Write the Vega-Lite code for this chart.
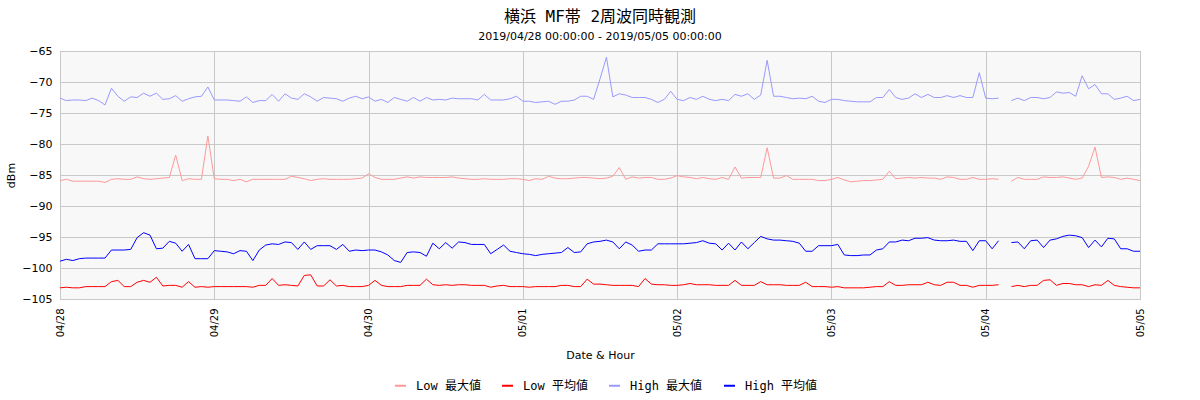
{
  "$schema": "https://vega.github.io/schema/vega-lite/v6.json",
  "description": "Yokohama MF band, two-frequency simultaneous observation, hourly max and mean in dBm.",
  "width": 1080,
  "height": 248,
  "autosize": "none",
  "padding": {"left": 60, "top": 51, "right": 60, "bottom": 101},
  "title": {
    "text": "横浜 MF帯 2周波同時観測",
    "subtitle": "2019/04/28 00:00:00 - 2019/05/05 00:00:00",
    "anchor": "middle",
    "font": "DejaVu Sans Mono, Noto Sans CJK JP",
    "fontSize": 16,
    "fontWeight": "normal",
    "color": "#000000",
    "subtitleFont": "DejaVu Sans",
    "subtitleFontSize": 11,
    "subtitleColor": "#000000",
    "subtitlePadding": 6,
    "offset": 3
  },
  "data": {
    "values": [
      {"t": "2019-04-28T00:00", "lmax": -85.9, "lavg": -103.2, "hmax": -72.6, "havg": -98.9},
      {"t": "2019-04-28T01:00", "lmax": -85.7, "lavg": -103.1, "hmax": -73.0, "havg": -98.6},
      {"t": "2019-04-28T02:00", "lmax": -86.0, "lavg": -103.2, "hmax": -72.9, "havg": -98.8},
      {"t": "2019-04-28T03:00", "lmax": -86.0, "lavg": -103.2, "hmax": -72.9, "havg": -98.5},
      {"t": "2019-04-28T04:00", "lmax": -86.0, "lavg": -103.0, "hmax": -73.0, "havg": -98.4},
      {"t": "2019-04-28T05:00", "lmax": -86.0, "lavg": -103.0, "hmax": -72.6, "havg": -98.4},
      {"t": "2019-04-28T06:00", "lmax": -86.0, "lavg": -103.0, "hmax": -73.0, "havg": -98.4},
      {"t": "2019-04-28T07:00", "lmax": -86.2, "lavg": -103.0, "hmax": -73.7, "havg": -98.4},
      {"t": "2019-04-28T08:00", "lmax": -85.7, "lavg": -102.2, "hmax": -71.0, "havg": -97.1},
      {"t": "2019-04-28T09:00", "lmax": -85.6, "lavg": -102.0, "hmax": -72.3, "havg": -97.1},
      {"t": "2019-04-28T10:00", "lmax": -85.7, "lavg": -103.0, "hmax": -73.1, "havg": -97.1},
      {"t": "2019-04-28T11:00", "lmax": -85.7, "lavg": -103.0, "hmax": -72.4, "havg": -97.0},
      {"t": "2019-04-28T12:00", "lmax": -85.3, "lavg": -102.3, "hmax": -72.5, "havg": -95.1},
      {"t": "2019-04-28T13:00", "lmax": -85.6, "lavg": -102.0, "hmax": -71.8, "havg": -94.3},
      {"t": "2019-04-28T14:00", "lmax": -85.7, "lavg": -102.3, "hmax": -72.3, "havg": -94.7},
      {"t": "2019-04-28T15:00", "lmax": -85.6, "lavg": -101.5, "hmax": -71.8, "havg": -96.9},
      {"t": "2019-04-28T16:00", "lmax": -85.5, "lavg": -102.9, "hmax": -72.8, "havg": -96.8},
      {"t": "2019-04-28T17:00", "lmax": -85.4, "lavg": -102.8, "hmax": -72.7, "havg": -95.7},
      {"t": "2019-04-28T18:00", "lmax": -81.8, "lavg": -102.8, "hmax": -72.2, "havg": -96.0},
      {"t": "2019-04-28T19:00", "lmax": -85.9, "lavg": -103.1, "hmax": -73.1, "havg": -97.3},
      {"t": "2019-04-28T20:00", "lmax": -85.6, "lavg": -102.2, "hmax": -72.7, "havg": -96.2},
      {"t": "2019-04-28T21:00", "lmax": -85.7, "lavg": -103.1, "hmax": -72.4, "havg": -98.5},
      {"t": "2019-04-28T22:00", "lmax": -85.7, "lavg": -103.0, "hmax": -72.3, "havg": -98.5},
      {"t": "2019-04-28T23:00", "lmax": -78.7, "lavg": -103.1, "hmax": -70.8, "havg": -98.5},
      {"t": "2019-04-29T00:00", "lmax": -85.6, "lavg": -103.0, "hmax": -72.9, "havg": -97.2},
      {"t": "2019-04-29T01:00", "lmax": -85.7, "lavg": -103.0, "hmax": -72.9, "havg": -97.3},
      {"t": "2019-04-29T02:00", "lmax": -85.7, "lavg": -103.0, "hmax": -72.9, "havg": -97.4},
      {"t": "2019-04-29T03:00", "lmax": -85.9, "lavg": -103.0, "hmax": -73.0, "havg": -97.7},
      {"t": "2019-04-29T04:00", "lmax": -85.7, "lavg": -103.0, "hmax": -73.1, "havg": -97.2},
      {"t": "2019-04-29T05:00", "lmax": -86.1, "lavg": -103.0, "hmax": -72.4, "havg": -97.3},
      {"t": "2019-04-29T06:00", "lmax": -85.7, "lavg": -103.1, "hmax": -73.3, "havg": -98.8},
      {"t": "2019-04-29T07:00", "lmax": -85.7, "lavg": -102.8, "hmax": -73.0, "havg": -97.1},
      {"t": "2019-04-29T08:00", "lmax": -85.7, "lavg": -102.8, "hmax": -73.0, "havg": -96.3},
      {"t": "2019-04-29T09:00", "lmax": -85.7, "lavg": -101.7, "hmax": -72.0, "havg": -96.1},
      {"t": "2019-04-29T10:00", "lmax": -85.7, "lavg": -102.8, "hmax": -73.1, "havg": -96.2},
      {"t": "2019-04-29T11:00", "lmax": -85.7, "lavg": -102.7, "hmax": -71.9, "havg": -95.8},
      {"t": "2019-04-29T12:00", "lmax": -85.2, "lavg": -102.8, "hmax": -72.6, "havg": -95.9},
      {"t": "2019-04-29T13:00", "lmax": -85.4, "lavg": -102.9, "hmax": -72.8, "havg": -97.0},
      {"t": "2019-04-29T14:00", "lmax": -85.6, "lavg": -101.2, "hmax": -71.9, "havg": -95.8},
      {"t": "2019-04-29T15:00", "lmax": -85.9, "lavg": -101.1, "hmax": -72.4, "havg": -97.0},
      {"t": "2019-04-29T16:00", "lmax": -85.7, "lavg": -102.9, "hmax": -73.1, "havg": -96.4},
      {"t": "2019-04-29T17:00", "lmax": -85.6, "lavg": -102.9, "hmax": -72.5, "havg": -96.4},
      {"t": "2019-04-29T18:00", "lmax": -85.7, "lavg": -101.9, "hmax": -72.6, "havg": -96.4},
      {"t": "2019-04-29T19:00", "lmax": -85.7, "lavg": -102.9, "hmax": -72.7, "havg": -97.0},
      {"t": "2019-04-29T20:00", "lmax": -85.7, "lavg": -102.8, "hmax": -73.1, "havg": -96.2},
      {"t": "2019-04-29T21:00", "lmax": -85.7, "lavg": -103.0, "hmax": -72.6, "havg": -97.3},
      {"t": "2019-04-29T22:00", "lmax": -85.6, "lavg": -103.0, "hmax": -72.3, "havg": -97.1},
      {"t": "2019-04-29T23:00", "lmax": -85.5, "lavg": -103.0, "hmax": -72.7, "havg": -97.2},
      {"t": "2019-04-30T00:00", "lmax": -84.8, "lavg": -102.8, "hmax": -72.4, "havg": -97.1},
      {"t": "2019-04-30T01:00", "lmax": -85.4, "lavg": -102.0, "hmax": -73.1, "havg": -97.1},
      {"t": "2019-04-30T02:00", "lmax": -85.7, "lavg": -102.8, "hmax": -72.8, "havg": -97.4},
      {"t": "2019-04-30T03:00", "lmax": -85.7, "lavg": -103.0, "hmax": -73.3, "havg": -97.9},
      {"t": "2019-04-30T04:00", "lmax": -85.7, "lavg": -103.0, "hmax": -72.5, "havg": -98.8},
      {"t": "2019-04-30T05:00", "lmax": -85.5, "lavg": -103.0, "hmax": -72.8, "havg": -99.1},
      {"t": "2019-04-30T06:00", "lmax": -85.3, "lavg": -102.8, "hmax": -73.1, "havg": -97.5},
      {"t": "2019-04-30T07:00", "lmax": -85.5, "lavg": -102.8, "hmax": -72.5, "havg": -97.4},
      {"t": "2019-04-30T08:00", "lmax": -85.3, "lavg": -102.8, "hmax": -73.1, "havg": -97.5},
      {"t": "2019-04-30T09:00", "lmax": -85.4, "lavg": -101.8, "hmax": -72.5, "havg": -98.1},
      {"t": "2019-04-30T10:00", "lmax": -85.4, "lavg": -102.7, "hmax": -72.9, "havg": -96.0},
      {"t": "2019-04-30T11:00", "lmax": -85.4, "lavg": -102.8, "hmax": -72.8, "havg": -96.9},
      {"t": "2019-04-30T12:00", "lmax": -85.4, "lavg": -102.7, "hmax": -72.9, "havg": -95.9},
      {"t": "2019-04-30T13:00", "lmax": -85.3, "lavg": -102.8, "hmax": -72.6, "havg": -96.8},
      {"t": "2019-04-30T14:00", "lmax": -85.5, "lavg": -102.7, "hmax": -72.7, "havg": -95.8},
      {"t": "2019-04-30T15:00", "lmax": -85.6, "lavg": -102.7, "hmax": -72.7, "havg": -95.9},
      {"t": "2019-04-30T16:00", "lmax": -85.7, "lavg": -102.8, "hmax": -72.7, "havg": -96.2},
      {"t": "2019-04-30T17:00", "lmax": -85.7, "lavg": -102.8, "hmax": -72.9, "havg": -96.2},
      {"t": "2019-04-30T18:00", "lmax": -85.6, "lavg": -102.8, "hmax": -72.0, "havg": -96.2},
      {"t": "2019-04-30T19:00", "lmax": -85.7, "lavg": -103.1, "hmax": -72.9, "havg": -97.7},
      {"t": "2019-04-30T20:00", "lmax": -85.7, "lavg": -102.9, "hmax": -72.9, "havg": -97.0},
      {"t": "2019-04-30T21:00", "lmax": -85.7, "lavg": -102.8, "hmax": -72.9, "havg": -96.3},
      {"t": "2019-04-30T22:00", "lmax": -85.6, "lavg": -103.0, "hmax": -72.7, "havg": -97.3},
      {"t": "2019-04-30T23:00", "lmax": -85.6, "lavg": -103.0, "hmax": -72.3, "havg": -97.5},
      {"t": "2019-05-01T00:00", "lmax": -85.7, "lavg": -103.0, "hmax": -73.1, "havg": -97.7},
      {"t": "2019-05-01T01:00", "lmax": -85.9, "lavg": -103.1, "hmax": -73.1, "havg": -97.8},
      {"t": "2019-05-01T02:00", "lmax": -85.6, "lavg": -103.0, "hmax": -73.3, "havg": -98.0},
      {"t": "2019-05-01T03:00", "lmax": -85.7, "lavg": -103.0, "hmax": -73.2, "havg": -97.8},
      {"t": "2019-05-01T04:00", "lmax": -85.2, "lavg": -103.0, "hmax": -73.1, "havg": -97.7},
      {"t": "2019-05-01T05:00", "lmax": -85.5, "lavg": -103.0, "hmax": -73.6, "havg": -97.6},
      {"t": "2019-05-01T06:00", "lmax": -85.6, "lavg": -102.8, "hmax": -73.1, "havg": -97.5},
      {"t": "2019-05-01T07:00", "lmax": -85.6, "lavg": -102.8, "hmax": -73.1, "havg": -96.7},
      {"t": "2019-05-01T08:00", "lmax": -85.5, "lavg": -103.0, "hmax": -72.9, "havg": -97.5},
      {"t": "2019-05-01T09:00", "lmax": -85.4, "lavg": -103.0, "hmax": -72.3, "havg": -97.4},
      {"t": "2019-05-01T10:00", "lmax": -85.4, "lavg": -101.8, "hmax": -72.3, "havg": -96.1},
      {"t": "2019-05-01T11:00", "lmax": -85.5, "lavg": -102.6, "hmax": -72.8, "havg": -95.8},
      {"t": "2019-05-01T12:00", "lmax": -85.6, "lavg": -102.6, "hmax": -69.5, "havg": -95.7},
      {"t": "2019-05-01T13:00", "lmax": -85.5, "lavg": -102.7, "hmax": -66.0, "havg": -95.5},
      {"t": "2019-05-01T14:00", "lmax": -85.2, "lavg": -102.8, "hmax": -72.4, "havg": -95.8},
      {"t": "2019-05-01T15:00", "lmax": -83.8, "lavg": -102.8, "hmax": -71.9, "havg": -96.9},
      {"t": "2019-05-01T16:00", "lmax": -85.7, "lavg": -102.8, "hmax": -72.1, "havg": -95.8},
      {"t": "2019-05-01T17:00", "lmax": -85.3, "lavg": -102.8, "hmax": -72.5, "havg": -96.3},
      {"t": "2019-05-01T18:00", "lmax": -85.5, "lavg": -103.0, "hmax": -72.5, "havg": -97.3},
      {"t": "2019-05-01T19:00", "lmax": -85.4, "lavg": -101.7, "hmax": -72.5, "havg": -97.1},
      {"t": "2019-05-01T20:00", "lmax": -85.4, "lavg": -102.6, "hmax": -72.8, "havg": -97.1},
      {"t": "2019-05-01T21:00", "lmax": -85.7, "lavg": -102.7, "hmax": -73.3, "havg": -96.1},
      {"t": "2019-05-01T22:00", "lmax": -85.7, "lavg": -102.7, "hmax": -72.8, "havg": -96.1},
      {"t": "2019-05-01T23:00", "lmax": -85.5, "lavg": -102.8, "hmax": -71.5, "havg": -96.1},
      {"t": "2019-05-02T00:00", "lmax": -85.1, "lavg": -102.8, "hmax": -72.8, "havg": -96.1},
      {"t": "2019-05-02T01:00", "lmax": -85.3, "lavg": -102.7, "hmax": -73.0, "havg": -96.1},
      {"t": "2019-05-02T02:00", "lmax": -85.4, "lavg": -102.5, "hmax": -72.5, "havg": -96.0},
      {"t": "2019-05-02T03:00", "lmax": -85.6, "lavg": -102.7, "hmax": -72.8, "havg": -95.9},
      {"t": "2019-05-02T04:00", "lmax": -85.4, "lavg": -102.7, "hmax": -72.3, "havg": -95.6},
      {"t": "2019-05-02T05:00", "lmax": -85.6, "lavg": -102.7, "hmax": -72.8, "havg": -96.0},
      {"t": "2019-05-02T06:00", "lmax": -85.7, "lavg": -102.8, "hmax": -73.0, "havg": -96.1},
      {"t": "2019-05-02T07:00", "lmax": -85.4, "lavg": -102.8, "hmax": -72.8, "havg": -97.1},
      {"t": "2019-05-02T08:00", "lmax": -85.7, "lavg": -102.8, "hmax": -73.0, "havg": -96.0},
      {"t": "2019-05-02T09:00", "lmax": -83.7, "lavg": -102.0, "hmax": -72.0, "havg": -97.1},
      {"t": "2019-05-02T10:00", "lmax": -85.5, "lavg": -102.8, "hmax": -72.3, "havg": -95.8},
      {"t": "2019-05-02T11:00", "lmax": -85.4, "lavg": -102.8, "hmax": -71.9, "havg": -96.9},
      {"t": "2019-05-02T12:00", "lmax": -85.4, "lavg": -102.8, "hmax": -72.8, "havg": -95.9},
      {"t": "2019-05-02T13:00", "lmax": -85.4, "lavg": -102.2, "hmax": -72.1, "havg": -94.9},
      {"t": "2019-05-02T14:00", "lmax": -80.6, "lavg": -102.7, "hmax": -66.5, "havg": -95.3},
      {"t": "2019-05-02T15:00", "lmax": -85.5, "lavg": -102.7, "hmax": -72.3, "havg": -95.5},
      {"t": "2019-05-02T16:00", "lmax": -85.5, "lavg": -102.7, "hmax": -72.3, "havg": -95.5},
      {"t": "2019-05-02T17:00", "lmax": -85.1, "lavg": -102.8, "hmax": -72.5, "havg": -95.6},
      {"t": "2019-05-02T18:00", "lmax": -85.7, "lavg": -102.8, "hmax": -72.7, "havg": -95.7},
      {"t": "2019-05-02T19:00", "lmax": -85.7, "lavg": -102.8, "hmax": -72.6, "havg": -96.0},
      {"t": "2019-05-02T20:00", "lmax": -85.7, "lavg": -102.3, "hmax": -72.7, "havg": -97.3},
      {"t": "2019-05-02T21:00", "lmax": -85.7, "lavg": -103.0, "hmax": -72.3, "havg": -97.3},
      {"t": "2019-05-02T22:00", "lmax": -85.9, "lavg": -103.0, "hmax": -73.1, "havg": -96.4},
      {"t": "2019-05-02T23:00", "lmax": -85.9, "lavg": -103.0, "hmax": -73.3, "havg": -96.4},
      {"t": "2019-05-03T00:00", "lmax": -85.7, "lavg": -103.1, "hmax": -72.8, "havg": -96.4},
      {"t": "2019-05-03T01:00", "lmax": -85.4, "lavg": -103.0, "hmax": -72.8, "havg": -96.2},
      {"t": "2019-05-03T02:00", "lmax": -85.8, "lavg": -103.2, "hmax": -73.0, "havg": -97.9},
      {"t": "2019-05-03T03:00", "lmax": -86.1, "lavg": -103.2, "hmax": -73.1, "havg": -98.0},
      {"t": "2019-05-03T04:00", "lmax": -86.0, "lavg": -103.2, "hmax": -73.2, "havg": -98.0},
      {"t": "2019-05-03T05:00", "lmax": -85.9, "lavg": -103.2, "hmax": -73.2, "havg": -97.9},
      {"t": "2019-05-03T06:00", "lmax": -85.9, "lavg": -103.1, "hmax": -73.2, "havg": -97.9},
      {"t": "2019-05-03T07:00", "lmax": -85.8, "lavg": -103.0, "hmax": -72.5, "havg": -97.1},
      {"t": "2019-05-03T08:00", "lmax": -85.7, "lavg": -103.0, "hmax": -72.5, "havg": -96.9},
      {"t": "2019-05-03T09:00", "lmax": -84.4, "lavg": -102.2, "hmax": -71.2, "havg": -95.8},
      {"t": "2019-05-03T10:00", "lmax": -85.6, "lavg": -102.8, "hmax": -72.5, "havg": -95.8},
      {"t": "2019-05-03T11:00", "lmax": -85.5, "lavg": -102.8, "hmax": -72.8, "havg": -95.5},
      {"t": "2019-05-03T12:00", "lmax": -85.4, "lavg": -102.7, "hmax": -72.6, "havg": -95.6},
      {"t": "2019-05-03T13:00", "lmax": -85.5, "lavg": -102.7, "hmax": -71.9, "havg": -95.2},
      {"t": "2019-05-03T14:00", "lmax": -85.4, "lavg": -102.7, "hmax": -72.5, "havg": -95.2},
      {"t": "2019-05-03T15:00", "lmax": -85.5, "lavg": -102.3, "hmax": -72.0, "havg": -95.1},
      {"t": "2019-05-03T16:00", "lmax": -85.5, "lavg": -102.7, "hmax": -72.5, "havg": -95.5},
      {"t": "2019-05-03T17:00", "lmax": -85.7, "lavg": -102.8, "hmax": -72.5, "havg": -95.6},
      {"t": "2019-05-03T18:00", "lmax": -85.3, "lavg": -102.3, "hmax": -72.2, "havg": -95.6},
      {"t": "2019-05-03T19:00", "lmax": -85.4, "lavg": -102.3, "hmax": -72.5, "havg": -95.5},
      {"t": "2019-05-03T20:00", "lmax": -85.7, "lavg": -102.8, "hmax": -72.2, "havg": -95.7},
      {"t": "2019-05-03T21:00", "lmax": -85.7, "lavg": -102.8, "hmax": -72.5, "havg": -95.7},
      {"t": "2019-05-03T22:00", "lmax": -85.4, "lavg": -103.1, "hmax": -72.5, "havg": -97.2},
      {"t": "2019-05-03T23:00", "lmax": -85.7, "lavg": -102.8, "hmax": -68.5, "havg": -95.6},
      {"t": "2019-05-04T00:00", "lmax": -85.7, "lavg": -102.8, "hmax": -72.6, "havg": -95.6},
      {"t": "2019-05-04T01:00", "lmax": -85.6, "lavg": -102.8, "hmax": -72.7, "havg": -96.9},
      {"t": "2019-05-04T02:00", "lmax": -85.7, "lavg": -102.7, "hmax": -72.6, "havg": -95.6},
      {"t": "2019-05-04T03:00", "lmax": null, "lavg": null, "hmax": null, "havg": null},
      {"t": "2019-05-04T04:00", "lmax": -86.0, "lavg": -103.0, "hmax": -73.0, "havg": -95.9},
      {"t": "2019-05-04T05:00", "lmax": -85.4, "lavg": -102.8, "hmax": -72.6, "havg": -95.8},
      {"t": "2019-05-04T06:00", "lmax": -85.7, "lavg": -103.0, "hmax": -73.0, "havg": -96.9},
      {"t": "2019-05-04T07:00", "lmax": -85.7, "lavg": -102.8, "hmax": -72.5, "havg": -95.6},
      {"t": "2019-05-04T08:00", "lmax": -85.7, "lavg": -102.8, "hmax": -72.5, "havg": -95.5},
      {"t": "2019-05-04T09:00", "lmax": -85.3, "lavg": -102.0, "hmax": -72.7, "havg": -96.7},
      {"t": "2019-05-04T10:00", "lmax": -85.4, "lavg": -101.9, "hmax": -72.5, "havg": -95.5},
      {"t": "2019-05-04T11:00", "lmax": -85.4, "lavg": -102.8, "hmax": -71.6, "havg": -95.3},
      {"t": "2019-05-04T12:00", "lmax": -85.3, "lavg": -102.5, "hmax": -71.8, "havg": -94.9},
      {"t": "2019-05-04T13:00", "lmax": -85.5, "lavg": -102.5, "hmax": -71.7, "havg": -94.7},
      {"t": "2019-05-04T14:00", "lmax": -85.7, "lavg": -102.7, "hmax": -72.3, "havg": -94.8},
      {"t": "2019-05-04T15:00", "lmax": -85.5, "lavg": -102.7, "hmax": -69.0, "havg": -95.1},
      {"t": "2019-05-04T16:00", "lmax": -83.6, "lavg": -103.0, "hmax": -71.1, "havg": -96.7},
      {"t": "2019-05-04T17:00", "lmax": -80.5, "lavg": -102.7, "hmax": -70.4, "havg": -95.5},
      {"t": "2019-05-04T18:00", "lmax": -85.4, "lavg": -102.8, "hmax": -71.9, "havg": -96.6},
      {"t": "2019-05-04T19:00", "lmax": -85.3, "lavg": -102.0, "hmax": -71.9, "havg": -95.2},
      {"t": "2019-05-04T20:00", "lmax": -85.4, "lavg": -102.8, "hmax": -72.8, "havg": -95.3},
      {"t": "2019-05-04T21:00", "lmax": -85.7, "lavg": -103.0, "hmax": -72.6, "havg": -96.9},
      {"t": "2019-05-04T22:00", "lmax": -85.5, "lavg": -103.1, "hmax": -72.3, "havg": -96.9},
      {"t": "2019-05-04T23:00", "lmax": -85.7, "lavg": -103.2, "hmax": -73.0, "havg": -97.3},
      {"t": "2019-05-05T00:00", "lmax": -85.9, "lavg": -103.2, "hmax": -72.8, "havg": -97.3}
    ]
  },
  "transform": [
    {"fold": ["lmax", "lavg", "hmax", "havg"], "as": ["series", "dBm"]}
  ],
  "mark": {"type": "line", "strokeWidth": 1},
  "encoding": {
    "x": {
      "field": "t",
      "type": "temporal",
      "title": "Date & Hour",
      "axis": {
        "format": "%m/%d",
        "tickCount": {"interval": "day", "step": 1},
        "labelAngle": -90,
        "labelFontSize": 10,
        "labelPadding": 9,
        "titleFontSize": 11,
        "titlePadding": 13
      }
    },
    "y": {
      "field": "dBm",
      "type": "quantitative",
      "title": "dBm",
      "scale": {"domain": [-105, -65], "nice": false, "zero": false},
      "axis": {
        "values": [-105, -100, -95, -90, -85, -80, -75, -70, -65],
        "labelFontSize": 11,
        "labelPadding": 8,
        "titleFontSize": 11,
        "titlePadding": 5
      }
    },
    "color": {
      "field": "series",
      "type": "nominal",
      "scale": {
        "domain": ["lmax", "lavg", "hmax", "havg"],
        "range": ["#ff9999", "#ff0000", "#9999ff", "#0000ff"]
      },
      "legend": {
        "title": null,
        "orient": "none",
        "direction": "horizontal",
        "legendX": 334,
        "legendY": 328,
        "symbolType": "stroke",
        "symbolStrokeWidth": 2,
        "symbolSize": 120,
        "labelFont": "DejaVu Sans Mono, Noto Sans CJK JP",
        "labelFontSize": 12,
        "labelColor": "#000000",
        "labelOffset": 9,
        "columnPadding": 17,
        "labelExpr": "datum.label == 'lmax' ? 'Low 最大値' : datum.label == 'lavg' ? 'Low 平均値' : datum.label == 'hmax' ? 'High 最大値' : 'High 平均値'"
      }
    }
  },
  "config": {
    "view": {"fill": "#f8f8f8", "stroke": "#aaaaaa"},
    "axis": {
      "labelFont": "DejaVu Sans",
      "titleFont": "DejaVu Sans",
      "labelColor": "#000000",
      "titleColor": "#000000",
      "titleFontWeight": "normal",
      "gridColor": "#c8c8c8",
      "gridOpacity": 1,
      "domain": false,
      "ticks": false
    }
  }
}
